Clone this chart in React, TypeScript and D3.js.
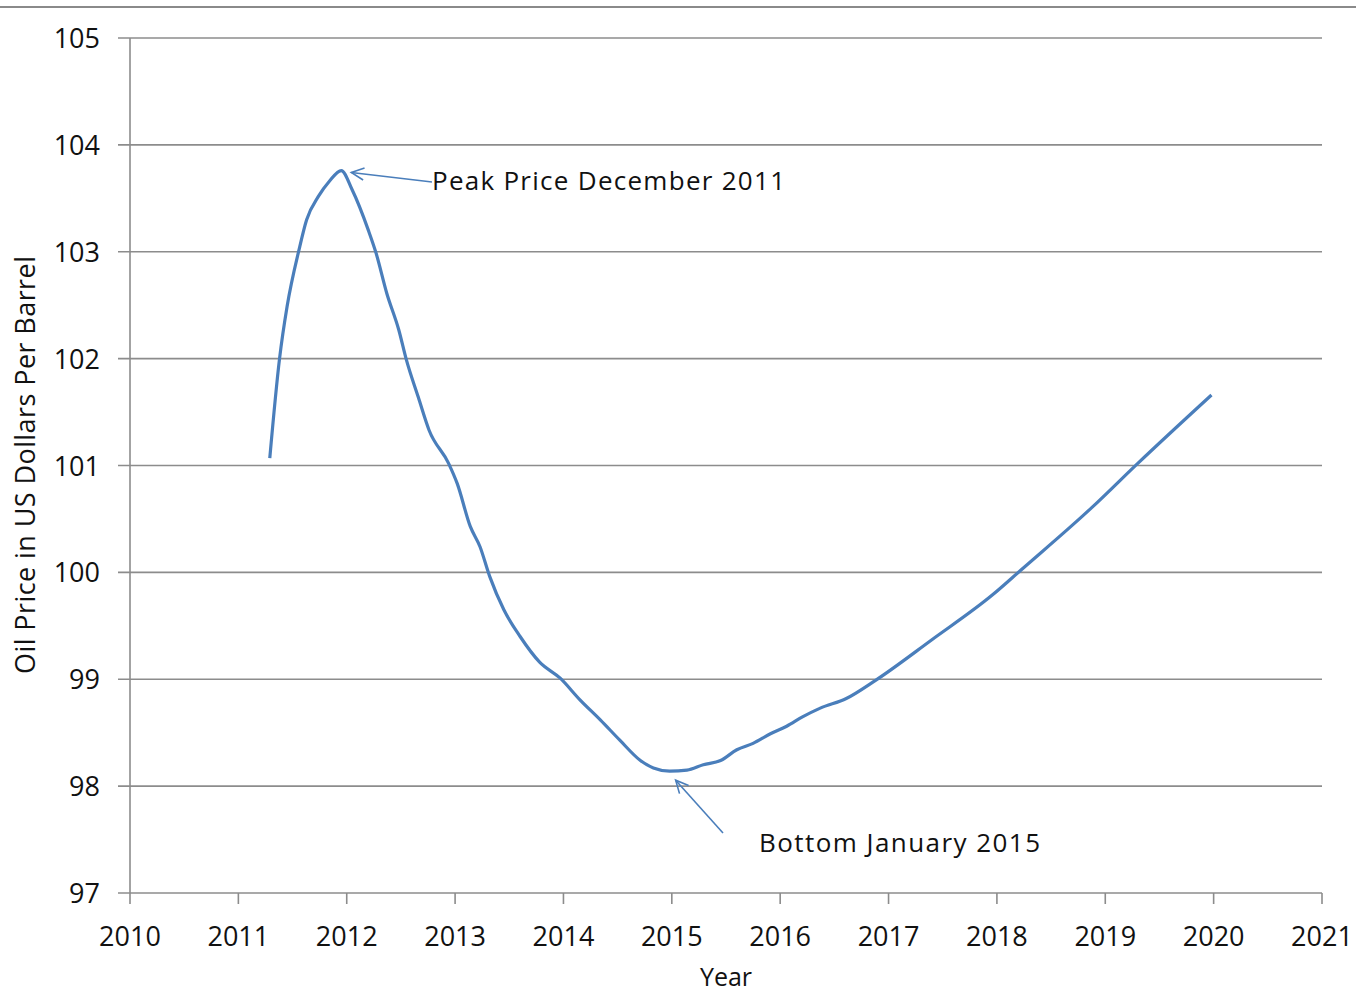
import * as React from "react";
import * as d3 from "d3";

// 12-month average oil price (decimal year, USD)
const years: number[] = [
  2011.29, 2011.38, 2011.45, 2011.56, 2011.63, 2011.74, 2011.84, 2011.95,
  2012.05, 2012.2, 2012.27, 2012.37, 2012.48, 2012.55, 2012.66, 2012.76,
  2012.94, 2013.02, 2013.14, 2013.23, 2013.32, 2013.45, 2013.6, 2013.78,
  2013.97, 2014.15, 2014.34, 2014.52, 2014.71, 2014.83, 2014.98, 2015.14,
  2015.29, 2015.45, 2015.6, 2015.75, 2015.91, 2016.06, 2016.21, 2016.37,
  2016.61, 2016.88, 2017.4, 2017.96, 2018.22, 2018.88, 2019.3, 2019.98
];
const prices: number[] = [
  101.07, 102.0, 102.49, 103.02, 103.3, 103.52, 103.66, 103.76,
  103.58, 103.2, 102.99, 102.61, 102.27, 101.99, 101.64, 101.33,
  101.02, 100.83, 100.43, 100.24, 99.96, 99.65, 99.4, 99.16,
  99.01, 98.81, 98.62, 98.43, 98.24, 98.17, 98.14, 98.15,
  98.2, 98.24, 98.34, 98.4, 98.49, 98.56, 98.65, 98.73,
  98.82, 98.99, 99.37, 99.79, 100.02, 100.61, 101.02, 101.66
];
const yTicks: number[] = [97, 98, 99, 100, 101, 102, 103, 104, 105];
const xTicks: number[] = [2010, 2011, 2012, 2013, 2014, 2015, 2016, 2017, 2018, 2019, 2020, 2021];

const W = 1356;
const H = 995;
const left = 130;
const right = 1322;
const top = 38;
const bottom = 893;
const font = "'Open Sans', sans-serif";
const blue = "#4a7ebb";
const grid = "#8c8c8c";
const ink = "#111";

const x = d3.scaleLinear().domain([2010, 2021]).range([left, right]);
const y = d3.scaleLinear().domain([97, 105]).range([bottom, top]);

const line = d3
  .line<number>()
  .x((d, i) => x(years[i]))
  .y(d => y(d))
  .curve(d3.curveMonotoneX);

function Arrow({ x1, y1, x2, y2 }) {
  // open arrowhead at (x2, y2)
  const a = Math.atan2(y2 - y1, x2 - x1);
  const len = 14;
  const spread = 0.45;
  const p1 = [x2 - len * Math.cos(a - spread), y2 - len * Math.sin(a - spread)];
  const p2 = [x2 - len * Math.cos(a + spread), y2 - len * Math.sin(a + spread)];
  return (
    <g stroke={blue} strokeWidth={1.6} fill="none">
      <line x1={x1} y1={y1} x2={x2} y2={y2} />
      <polyline points={`${p1[0]},${p1[1]} ${x2},${y2} ${p2[0]},${p2[1]}`} />
    </g>
  );
}

export default function App() {
  const peakX = x(2011.95);
  const peakY = y(103.76);
  const lowX = x(2014.98);
  const lowY = y(98.14);
  return (
    <svg
      width={W}
      height={H}
      style={{ position: "absolute", left: 0, top: 0, background: "#fff" }}
    >
      <line x1={0} x2={W} y1={7} y2={7} stroke="#8a8a8a" strokeWidth={2} />
      {yTicks.map(t => (
        <g key={t}>
          <line x1={left - 12} x2={right} y1={y(t)} y2={y(t)} stroke={grid} strokeWidth={1.6} />
          <text
            x={100}
            y={y(t) + 10}
            textAnchor="end"
            fontFamily={font}
            fontSize={27}
            fill={ink}
          >
            {t}
          </text>
        </g>
      ))}
      <line x1={left} x2={left} y1={top} y2={bottom} stroke={grid} strokeWidth={1.6} />
      {xTicks.map(t => (
        <g key={t}>
          <line x1={x(t)} x2={x(t)} y1={bottom} y2={bottom + 11} stroke={grid} strokeWidth={1.6} />
          <text
            x={x(t)}
            y={946}
            textAnchor="middle"
            fontFamily={font}
            fontSize={27}
            fill={ink}
          >
            {t}
          </text>
        </g>
      ))}
      <text x={726} y={986} textAnchor="middle" fontFamily={font} fontSize={25} fill={ink}>
        Year
      </text>
      <text
        transform="translate(35,465) rotate(-90)"
        textAnchor="middle"
        fontFamily={font}
        fontSize={27}
        fill={ink}
        textLength={418}
      >
        Oil Price in US Dollars Per Barrel
      </text>

      <path d={line(prices)} fill="none" stroke={blue} strokeWidth={3.2} strokeLinejoin="round" />

      <Arrow x1={432} y1={182} x2={peakX + 10} y2={peakY + 2} />
      <text x={432} y={190} fontFamily={font} fontSize={26} fill={ink} textLength={353}>
        Peak Price December 2011
      </text>
      <Arrow x1={723} y1={833} x2={lowX + 6} y2={lowY + 9} />
      <text x={759} y={852} fontFamily={font} fontSize={26} fill={ink} textLength={281}>
        Bottom January 2015
      </text>
    </svg>
  );
}
